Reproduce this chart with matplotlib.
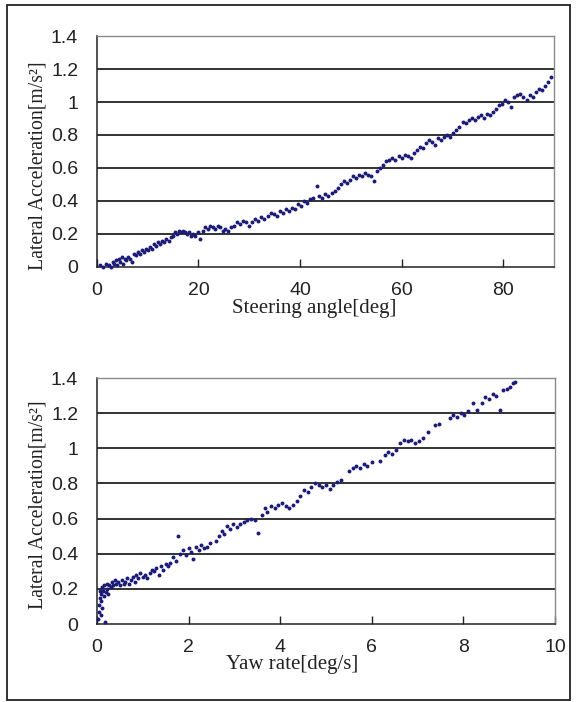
import matplotlib
matplotlib.use("Agg")
import matplotlib.pyplot as plt
from matplotlib.patches import Rectangle

# ---------------- data ----------------
steer_angle = [0.6, 1.2, 1.8, 2.3, 2.8, 3.1, 3.4, 3.7, 4.0, 4.3, 4.6, 4.9, 5.2, 5.5, 5.8, 6.1, 6.5, 7.0, 7.3, 7.7,
               8.1, 8.5, 8.9, 9.3, 9.7, 10.1, 10.5, 10.9, 11.3, 11.7, 12.1, 12.5, 12.9, 13.3, 13.7, 14.1, 14.5, 14.9,
               15.3, 15.7, 16.1, 16.5, 16.9, 17.3, 17.7, 18.1, 18.5, 18.9, 19.4, 19.9, 20.3, 20.8, 21.3, 21.8, 22.3,
               22.8, 23.3, 23.8, 24.3, 24.8, 25.3, 25.8, 26.4, 27.0, 27.6, 28.2, 28.8, 29.4, 30.0, 30.6, 31.2, 31.8,
               32.4, 33.0, 33.6, 34.2, 34.8, 35.4, 36.0, 36.6, 37.2, 37.8, 38.4, 39.0, 39.6, 40.2, 40.8, 41.4, 42.0,
               42.6, 43.3, 43.8, 44.4, 45.0, 45.6, 46.2, 46.8, 47.4, 48.0, 48.6, 49.2, 49.8, 50.4, 51.0, 51.6, 52.2,
               52.8, 53.4, 54.0, 54.6, 55.2, 55.8, 56.4, 57.0, 57.6, 58.2, 58.8, 59.4, 60.0, 60.6, 61.2, 61.8, 62.4,
               63.0, 63.6, 64.2, 64.8, 65.4, 66.0, 66.6, 67.2, 67.8, 68.4, 69.0, 69.6, 70.2, 70.8, 71.4, 72.0, 72.6,
               73.2, 73.8, 74.4, 75.0, 75.6, 76.2, 76.8, 77.4, 78.0, 78.6, 79.2, 79.8, 80.4, 81.0, 81.6, 82.2, 82.8,
               83.4, 84.0, 84.6, 85.2, 85.8, 86.4, 87.0, 87.6, 88.2, 88.8, 89.4]
lat_acc_steer = [0.01, 0.00, 0.02, 0.01, 0.00, 0.03, 0.02, 0.04, 0.01, 0.05, 0.03, 0.06, 0.02, 0.05, 0.04, 0.06, 0.05,
                 0.03, 0.08, 0.07, 0.09, 0.08, 0.10, 0.09, 0.11, 0.10, 0.12, 0.11, 0.14, 0.13, 0.15, 0.14, 0.16, 0.15,
                 0.17, 0.16, 0.18, 0.19, 0.21, 0.20, 0.22, 0.21, 0.22, 0.21, 0.20, 0.21, 0.19, 0.20, 0.19, 0.21, 0.17,
                 0.22, 0.24, 0.23, 0.25, 0.24, 0.23, 0.25, 0.24, 0.22, 0.23, 0.22, 0.24, 0.25, 0.27, 0.26, 0.28, 0.27,
                 0.25, 0.27, 0.29, 0.28, 0.30, 0.29, 0.31, 0.33, 0.32, 0.31, 0.34, 0.33, 0.35, 0.34, 0.36, 0.35, 0.38,
                 0.37, 0.40, 0.39, 0.41, 0.42, 0.49, 0.43, 0.42, 0.44, 0.43, 0.45, 0.46, 0.48, 0.50, 0.52, 0.51, 0.53,
                 0.55, 0.54, 0.56, 0.55, 0.57, 0.56, 0.55, 0.52, 0.58, 0.60, 0.62, 0.64, 0.65, 0.66, 0.65, 0.67, 0.66,
                 0.68, 0.67, 0.66, 0.69, 0.71, 0.73, 0.72, 0.75, 0.77, 0.76, 0.74, 0.78, 0.77, 0.79, 0.80, 0.79, 0.81,
                 0.83, 0.85, 0.88, 0.87, 0.89, 0.90, 0.89, 0.91, 0.92, 0.90, 0.93, 0.92, 0.94, 0.96, 0.98, 0.99, 1.01,
                 1.00, 0.97, 1.03, 1.04, 1.05, 1.03, 1.01, 1.04, 1.03, 1.06, 1.08, 1.07, 1.10, 1.12, 1.15]

yaw_rate = [0.03, 0.05, 0.05, 0.06, 0.07, 0.08, 0.08, 0.09, 0.10, 0.12, 0.13, 0.15, 0.16, 0.18, 0.19, 0.21, 0.23,
            0.25, 0.27, 0.30, 0.33, 0.36, 0.39, 0.42, 0.46, 0.50, 0.54, 0.58, 0.62, 0.66, 0.70, 0.74, 0.78, 0.82,
            0.86, 0.90, 0.95, 1.00, 1.05, 1.10, 1.15, 1.20, 1.25, 1.30, 1.35, 1.40, 1.45, 1.50, 1.55, 1.60, 1.66,
            1.72, 1.77, 1.82, 1.88, 1.94, 2.00, 2.05, 2.10, 2.16, 2.22, 2.28, 2.34, 2.40, 2.46, 2.60, 2.66, 2.72,
            2.78, 2.84, 2.90, 2.96, 3.05, 3.12, 3.20, 3.28, 3.36, 3.44, 3.52, 3.60, 3.66, 3.72, 3.80, 3.88, 3.96,
            4.04, 4.12, 4.20, 4.28, 4.36, 4.44, 4.52, 4.60, 4.68, 4.76, 4.84, 4.92, 5.00, 5.08, 5.16, 5.24, 5.32,
            5.50, 5.58, 5.66, 5.74, 5.82, 5.90, 6.00, 6.18, 6.28, 6.36, 6.44, 6.52, 6.62, 6.70, 6.78, 6.86, 6.94,
            7.02, 7.12, 7.22, 7.38, 7.46, 7.70, 7.78, 7.86, 7.94, 8.02, 8.10, 8.20, 8.30, 8.40, 8.48, 8.56, 8.64,
            8.72, 8.80, 8.86, 8.94, 9.02, 9.08, 9.12]
lat_acc_yaw = [0.03, 0.07, 0.11, 0.15, 0.19, 0.05, 0.13, 0.17, 0.21, 0.09, 0.19, 0.16, 0.22, 0.01, 0.18, 0.23, 0.20,
               0.17, 0.22, 0.21, 0.24, 0.22, 0.25, 0.23, 0.24, 0.22, 0.25, 0.23, 0.24, 0.26, 0.23, 0.25, 0.27, 0.24,
               0.28, 0.26, 0.29, 0.27, 0.28, 0.26, 0.29, 0.31, 0.30, 0.32, 0.28, 0.33, 0.31, 0.34, 0.33, 0.35, 0.38,
               0.36, 0.50, 0.40, 0.42, 0.39, 0.43, 0.41, 0.37, 0.44, 0.42, 0.45, 0.43, 0.44, 0.46, 0.47, 0.50, 0.53,
               0.51, 0.56, 0.54, 0.57, 0.55, 0.57, 0.58, 0.59, 0.60, 0.59, 0.52, 0.62, 0.66, 0.64, 0.67, 0.66, 0.68,
               0.69, 0.67, 0.66, 0.68, 0.70, 0.73, 0.76, 0.75, 0.78, 0.80, 0.79, 0.78, 0.79, 0.77, 0.79, 0.81, 0.82,
               0.87, 0.89, 0.90, 0.89, 0.91, 0.90, 0.92, 0.93, 0.96, 0.98, 0.97, 0.99, 1.03, 1.05, 1.04, 1.05, 1.03,
               1.04, 1.06, 1.09, 1.13, 1.14, 1.17, 1.19, 1.18, 1.20, 1.19, 1.21, 1.26, 1.22, 1.26, 1.29, 1.28, 1.31,
               1.30, 1.22, 1.33, 1.34, 1.35, 1.37, 1.38]

y_ticks = [0, 0.2, 0.4, 0.6, 0.8, 1.0, 1.2, 1.4]
y_tick_labels = ["0", "0.2", "0.4", "0.6", "0.8", "1", "1.2", "1.4"]
x_ticks_top = [0, 20, 40, 60, 80]
x_ticks_bottom = [0, 2, 4, 6, 8, 10]

ylabel = "Lateral Acceleration[m/s²]"
xlabel_top = "Steering angle[deg]"
xlabel_bottom = "Yaw rate[deg/s]"

# ---------------- figure ----------------
fig = plt.figure(figsize=(5.77, 7.02), dpi=100)
fig.patch.set_facecolor("white")
fig.patches.append(Rectangle((0.012, 0.003), 0.976, 0.990, transform=fig.transFigure,
                             fill=False, edgecolor="#222222", linewidth=1.3))

tick_font = {"family": ["Liberation Sans", "DejaVu Sans"], "size": 14}
label_font = ["Liberation Serif", "DejaVu Serif"]
dot_color = "#1c1c78"


def style(ax, xs, xlim, xl, xlab_coords, ylab_y):
    ax.set_xlim(*xlim)
    ax.set_ylim(0, 1.4)
    ax.set_xticks(xs)
    ax.set_xticklabels([str(v) for v in xs], fontdict=tick_font)
    ax.set_yticks(y_ticks)
    ax.set_yticklabels(y_tick_labels, fontdict=tick_font)
    ax.tick_params(axis="x", direction="in", length=6, width=1.0, pad=11, colors="#222222")
    ax.tick_params(axis="y", length=0, pad=13.5, colors="#222222")
    for v in y_ticks[1:-1]:
        ax.axhline(v, color="#111111", linewidth=1.2, zorder=1)
    for s in ("left", "bottom"):
        ax.spines[s].set_color("#222222")
        ax.spines[s].set_linewidth(1.1)
    for s in ("top", "right"):
        ax.spines[s].set_color("#8a8a8a")
        ax.spines[s].set_linewidth(1.0)
    ax.set_ylabel(ylabel, family=label_font, fontsize=14.2, color="#222222")
    ax.yaxis.set_label_coords(-0.108, ylab_y)
    ax.set_xlabel(xl, family=label_font, fontsize=15, color="#222222")
    ax.xaxis.set_label_coords(*xlab_coords)


ax1 = fig.add_axes([0.168, 0.6197, 0.792, 0.329])
ax1.scatter(steer_angle, lat_acc_steer, s=8, color=dot_color, linewidths=0, zorder=3, clip_on=False)
style(ax1, x_ticks_top, (0, 90), xlabel_top, (0.475, -0.14), 0.437)

ax2 = fig.add_axes([0.168, 0.1111, 0.794, 0.3504])
ax2.scatter(yaw_rate, lat_acc_yaw, s=8, color=dot_color, linewidths=0, zorder=3, clip_on=False)
style(ax2, x_ticks_bottom, (0, 10), xlabel_bottom, (0.426, -0.125), 0.484)

fig.savefig("out.png", dpi=100, facecolor="white")
